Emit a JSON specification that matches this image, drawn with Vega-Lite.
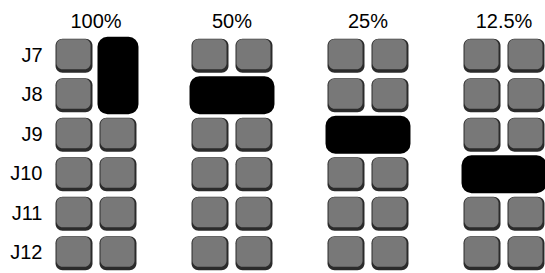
{
  "$schema": "https://vega.github.io/schema/vega-lite/v6.json",
  "padding": {"left": 9, "top": 12, "right": 0, "bottom": 0},
  "background": "white",
  "config": {"view": {"stroke": null}, "font": "Liberation Sans"},
  "data": {"values": [
    {"panel": "100%", "kind": "gray", "col": "1", "row": "J7"},
    {"panel": "100%", "kind": "gray", "col": "1", "row": "J8"},
    {"panel": "100%", "kind": "gray", "col": "1", "row": "J9"},
    {"panel": "100%", "kind": "gray", "col": "2", "row": "J9"},
    {"panel": "100%", "kind": "gray", "col": "1", "row": "J10"},
    {"panel": "100%", "kind": "gray", "col": "2", "row": "J10"},
    {"panel": "100%", "kind": "gray", "col": "1", "row": "J11"},
    {"panel": "100%", "kind": "gray", "col": "2", "row": "J11"},
    {"panel": "100%", "kind": "gray", "col": "1", "row": "J12"},
    {"panel": "100%", "kind": "gray", "col": "2", "row": "J12"},
    {"panel": "100%", "kind": "black", "col": "2", "col2": "2", "row": "J7", "row2": "J8"},
    {"panel": "50%", "kind": "gray", "col": "1", "row": "J7"},
    {"panel": "50%", "kind": "gray", "col": "2", "row": "J7"},
    {"panel": "50%", "kind": "gray", "col": "1", "row": "J9"},
    {"panel": "50%", "kind": "gray", "col": "2", "row": "J9"},
    {"panel": "50%", "kind": "gray", "col": "1", "row": "J10"},
    {"panel": "50%", "kind": "gray", "col": "2", "row": "J10"},
    {"panel": "50%", "kind": "gray", "col": "1", "row": "J11"},
    {"panel": "50%", "kind": "gray", "col": "2", "row": "J11"},
    {"panel": "50%", "kind": "gray", "col": "1", "row": "J12"},
    {"panel": "50%", "kind": "gray", "col": "2", "row": "J12"},
    {"panel": "50%", "kind": "black", "col": "1", "col2": "2", "row": "J8", "row2": "J8"},
    {"panel": "25%", "kind": "gray", "col": "1", "row": "J7"},
    {"panel": "25%", "kind": "gray", "col": "2", "row": "J7"},
    {"panel": "25%", "kind": "gray", "col": "1", "row": "J8"},
    {"panel": "25%", "kind": "gray", "col": "2", "row": "J8"},
    {"panel": "25%", "kind": "gray", "col": "1", "row": "J10"},
    {"panel": "25%", "kind": "gray", "col": "2", "row": "J10"},
    {"panel": "25%", "kind": "gray", "col": "1", "row": "J11"},
    {"panel": "25%", "kind": "gray", "col": "2", "row": "J11"},
    {"panel": "25%", "kind": "gray", "col": "1", "row": "J12"},
    {"panel": "25%", "kind": "gray", "col": "2", "row": "J12"},
    {"panel": "25%", "kind": "black", "col": "1", "col2": "2", "row": "J9", "row2": "J9"},
    {"panel": "12.5%", "kind": "gray", "col": "1", "row": "J7"},
    {"panel": "12.5%", "kind": "gray", "col": "2", "row": "J7"},
    {"panel": "12.5%", "kind": "gray", "col": "1", "row": "J8"},
    {"panel": "12.5%", "kind": "gray", "col": "2", "row": "J8"},
    {"panel": "12.5%", "kind": "gray", "col": "1", "row": "J9"},
    {"panel": "12.5%", "kind": "gray", "col": "2", "row": "J9"},
    {"panel": "12.5%", "kind": "gray", "col": "1", "row": "J11"},
    {"panel": "12.5%", "kind": "gray", "col": "2", "row": "J11"},
    {"panel": "12.5%", "kind": "gray", "col": "1", "row": "J12"},
    {"panel": "12.5%", "kind": "gray", "col": "2", "row": "J12"},
    {"panel": "12.5%", "kind": "black", "col": "1", "col2": "2", "row": "J10", "row2": "J10"}
  ]},
  "facet": {
    "column": {
      "field": "panel", "type": "nominal",
      "sort": ["100%", "50%", "25%", "12.5%"],
      "header": {"title": null, "labelFontSize": 20, "labelFont": "Liberation Sans", "labelColor": "#000", "labelPadding": 4}
    }
  },
  "spacing": 48,
  "spec": {
    "width": 88,
    "height": 237,
    "layer": [
      {
        "transform": [{"filter": "datum.kind === 'gray'"}],
        "mark": {"type": "rect", "fill": "#2b2b2b", "cornerRadius": 7},
        "encoding": {
          "x": {"field": "col", "type": "nominal", "axis": null,
                "scale": {"domain": ["1", "2"], "paddingInner": 0.159, "paddingOuter": 0.08}},
          "y": {"field": "row", "type": "nominal", "title": null,
                "scale": {"domain": ["J7", "J8", "J9", "J10", "J11", "J12"], "paddingInner": 0.139, "paddingOuter": 0.07},
                "axis": {"domain": false, "ticks": false, "labelFontSize": 20, "labelFont": "Liberation Sans", "labelColor": "#000", "labelPadding": 10}}
        }
      },
      {
        "transform": [{"filter": "datum.kind === 'gray'"}],
        "mark": {"type": "rect", "fill": "#787878", "cornerRadius": 6, "width": {"band": 0.92}, "height": {"band": 0.88}, "yOffset": -1.5, "xOffset": -0.5},
        "encoding": {
          "x": {"field": "col", "type": "nominal"},
          "y": {"field": "row", "type": "nominal"}
        }
      },
      {
        "transform": [{"filter": "datum.kind === 'black'"}],
        "mark": {"type": "rect", "fill": "#000", "stroke": "#000", "strokeWidth": 4, "cornerRadius": 8},
        "encoding": {
          "x": {"field": "col", "type": "nominal", "bandPosition": 0},
          "x2": {"field": "col2", "bandPosition": 1},
          "y": {"field": "row", "type": "nominal", "bandPosition": 0},
          "y2": {"field": "row2", "bandPosition": 1}
        }
      }
    ]
  }
}
